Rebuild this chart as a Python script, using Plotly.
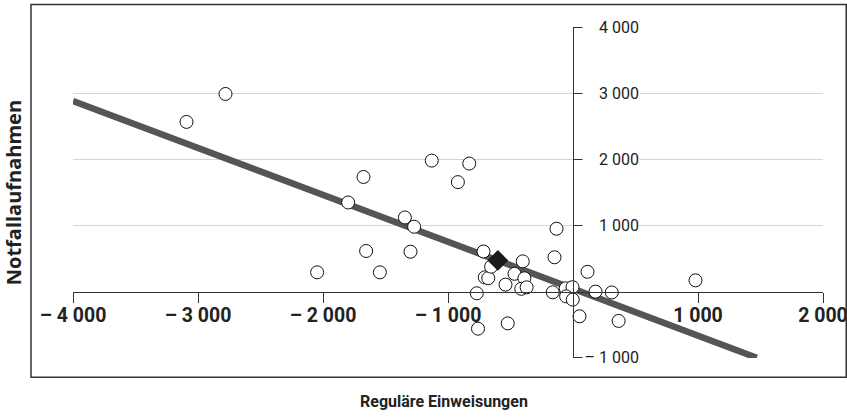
import plotly.graph_objects as go

# Data
reg_x = [-3092, -2780, -2047, -1799, -1676, -1655, -1545, -1345, -1300, -1271,
         -1130, -921, -830, -770, -760, -716, -706, -678, -655, -540,
         -522, -468, -402, -389, -414, -371, -162, -148, -132, -58,
         -4, -55, -2, 52, 116, 180, 310, 365, 980]
not_y = [2568, 2991, 292, 1349, 1735, 615, 292, 1122, 604, 982,
         1983, 1657, 1938, -25, -560, 607, 216, 204, 378, 106,
         -480, 270, 458, 202, 43, 65, -10, 520, 952, 50,
         68, -71, -121, -373, 300, 0, -12, -443, 171]
mean_x = [-601]
mean_y = [473]
trend_x = [-4000, 1470]
trend_y = [2885, -1000]

x_ticks = [-4000, -3000, -2000, -1000, 1000, 2000]
x_ticktext = ["– 4 000", "– 3 000", "– 2 000", "– 1 000", "1 000", "2 000"]
y_ticks = [-1000, 1000, 2000, 3000, 4000]
y_ticktext = ["– 1 000", "1 000", "2 000", "3 000", "4 000"]

FONT = "Roboto, Liberation Sans, sans-serif"

fig = go.Figure()
fig.add_trace(go.Scatter(x=trend_x, y=trend_y, mode="lines",
                         line=dict(color="#555555", width=6.5),
                         hoverinfo="skip", showlegend=False))
fig.add_trace(go.Scatter(x=reg_x, y=not_y, mode="markers",
                         marker=dict(size=13, color="white",
                                     line=dict(color="#111111", width=1)),
                         showlegend=False))
fig.add_trace(go.Scatter(x=mean_x, y=mean_y, mode="markers",
                         marker=dict(symbol="diamond", size=16, color="#1a1a1a",
                                     line=dict(color="#1a1a1a", width=0)),
                         showlegend=False))

fig.update_layout(
    width=847, height=417,
    margin=dict(l=73, r=24, t=27, b=59, autoexpand=False),
    paper_bgcolor="white", plot_bgcolor="white",
    xaxis=dict(range=[-4000, 2000], anchor="free", position=0.2,
               automargin=False,
               showline=True, linecolor="#333333", linewidth=1,
               ticks="outside", ticklen=10, tickcolor="#333333", tickwidth=1,
               tickvals=x_ticks, ticktext=x_ticktext,
               ticklabeloverflow="allow", ticklabelstandoff=-4,
               tickfont=dict(family=FONT, size=19.5, color="#222222", weight="bold"),
               showgrid=False, zeroline=False),
    yaxis=dict(range=[-1004, 4004], anchor="free", position=4000 / 6000,
               side="right", automargin=False,
               showline=True, linecolor="#333333", linewidth=1,
               ticks="outside", ticklen=10, tickcolor="#333333", tickwidth=1,
               tickvals=y_ticks, showticklabels=False,
               showgrid=True, gridcolor="#d4d4d4", gridwidth=1,
               zeroline=False),
)

for v, t in zip(y_ticks, y_ticktext):
    fig.add_annotation(x=0, y=v, xref="x", yref="y", text=t, showarrow=False,
                       xanchor="right", yanchor="middle", xshift=67,
                       width=56, align="right", bgcolor="white", borderpad=0,
                       font=dict(family=FONT, size=16, color="#222222"))

# frame
fig.add_shape(type="rect", xref="paper", yref="paper",
              x0=-0.056, x1=1.031, y0=-0.058, y1=1.068,
              line=dict(color="#333333", width=1.5))

fig.add_annotation(xref="paper", yref="paper", x=0.495, y=-0.13,
                   text="<b>Reguläre Einweisungen</b>", showarrow=False,
                   xanchor="center", yanchor="middle",
                   font=dict(family=FONT, size=16, color="#222222"))
fig.add_annotation(xref="paper", yref="paper", x=-0.079, y=0.5,
                   text="<b>Notfallaufnahmen</b>", showarrow=False,
                   textangle=-90, xanchor="center", yanchor="middle",
                   font=dict(family="Open Sans, sans-serif", size=20, color="#222222"))

fig.write_html("out.html")
